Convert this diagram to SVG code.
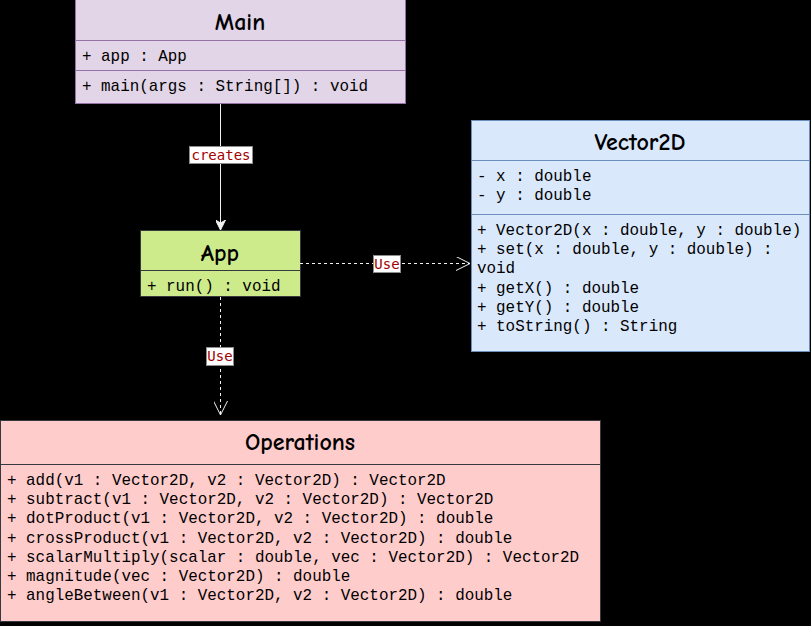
<svg xmlns="http://www.w3.org/2000/svg" width="811" height="626" viewBox="0 0 811 626">
<style>
.title{font-family:"Comic Sans MS","Comic Neue","DejaVu Sans",sans-serif;font-weight:bold;font-size:24px;fill:#000;text-anchor:middle}
.mem{font-family:"Liberation Mono","Courier New",monospace;font-size:15.9px;fill:#000}
.lbl{font-family:"DejaVu Sans Mono",monospace;font-size:14px;fill:#a20000;text-anchor:middle}
.lblbox{fill:#fff;stroke:#8c8c8c;stroke-width:1}
.edge{fill:none;stroke:#f2f2f2;stroke-width:1}
.dash{stroke-dasharray:3 3}
</style>
<defs>
<marker id="block" markerWidth="12" markerHeight="10" refX="10" refY="5" orient="auto" markerUnits="userSpaceOnUse">
<path d="M0,0 L10,5 L0,10 L3,5 Z" fill="#f2f2f2" stroke="#f2f2f2"/>
</marker>
<marker id="open" markerWidth="16" markerHeight="14" refX="14" refY="7" orient="auto" markerUnits="userSpaceOnUse">
<path d="M0,0 L14,7 L0,14" fill="none" stroke="#f2f2f2" stroke-width="1"/>
</marker>
</defs>
<rect width="811" height="626" fill="#000"/>

<g id="Main">
<rect x="75.5" y="-0.5" width="330" height="104" fill="#e1d5e7" stroke="#9673a6"/>
<line x1="75.5" y1="40.5" x2="405.5" y2="40.5" stroke="#9673a6"/>
<line x1="75.5" y1="70.5" x2="405.5" y2="70.5" stroke="#9673a6"/>
<text class="title" x="240" y="30">Main</text>
<text class="mem" x="82" y="61">+ app : App</text>
<text class="mem" x="82" y="91">+ main(args : String[]) : void</text>
</g>

<g id="Vector2D">
<rect x="471.5" y="120.5" width="338" height="231" fill="#dae8fc" stroke="#6c8ebf"/>
<line x1="471.5" y1="160.5" x2="809.5" y2="160.5" stroke="#6c8ebf"/>
<line x1="471.5" y1="214.5" x2="809.5" y2="214.5" stroke="#6c8ebf"/>
<text class="title" x="640" y="150">Vector2D</text>
<text class="mem" x="477" y="181">- x : double</text>
<text class="mem" x="477" y="200">- y : double</text>
<text class="mem" x="477" y="235">+ Vector2D(x : double, y : double)</text>
<text class="mem" x="477" y="254">+ set(x : double, y : double) :</text>
<text class="mem" x="477" y="273">void</text>
<text class="mem" x="477" y="293">+ getX() : double</text>
<text class="mem" x="477" y="312">+ getY() : double</text>
<text class="mem" x="477" y="331">+ toString() : String</text>
</g>

<g id="App">
<rect x="140.5" y="230.5" width="160" height="66" fill="#cdeb8b" stroke="#36393d"/>
<line x1="140.5" y1="270.5" x2="300.5" y2="270.5" stroke="#36393d"/>
<text class="title" x="220" y="261">App</text>
<text class="mem" x="147" y="291">+ run() : void</text>
</g>

<g id="Operations">
<rect x="0.5" y="420.5" width="600" height="201" fill="#ffcccc" stroke="#36393d"/>
<line x1="0.5" y1="464.5" x2="600.5" y2="464.5" stroke="#36393d"/>
<text class="title" x="300" y="450">Operations</text>
<text class="mem" x="7" y="485">+ add(v1 : Vector2D, v2 : Vector2D) : Vector2D</text>
<text class="mem" x="7" y="504">+ subtract(v1 : Vector2D, v2 : Vector2D) : Vector2D</text>
<text class="mem" x="7" y="523">+ dotProduct(v1 : Vector2D, v2 : Vector2D) : double</text>
<text class="mem" x="7" y="543">+ crossProduct(v1 : Vector2D, v2 : Vector2D) : double</text>
<text class="mem" x="7" y="562">+ scalarMultiply(scalar : double, vec : Vector2D) : Vector2D</text>
<text class="mem" x="7" y="581">+ magnitude(vec : Vector2D) : double</text>
<text class="mem" x="7" y="600">+ angleBetween(v1 : Vector2D, v2 : Vector2D) : double</text>
</g>

<g id="connectors">
<line class="edge" x1="220.5" y1="104" x2="220.5" y2="230" marker-end="url(#block)"/>
<rect class="lblbox" x="189.5" y="146.5" width="63" height="17"/>
<text class="lbl" x="221" y="160">creates</text>

<line class="edge dash" x1="300" y1="263.5" x2="470" y2="263.5" marker-end="url(#open)"/>
<rect class="lblbox" x="373.5" y="255.5" width="27" height="17"/>
<text class="lbl" x="387" y="269">Use</text>

<line class="edge dash" x1="220.5" y1="297" x2="220.5" y2="415" marker-end="url(#open)"/>
<rect class="lblbox" x="206.5" y="347.5" width="27" height="18"/>
<text class="lbl" x="220" y="361">Use</text>
</g>
</svg>
